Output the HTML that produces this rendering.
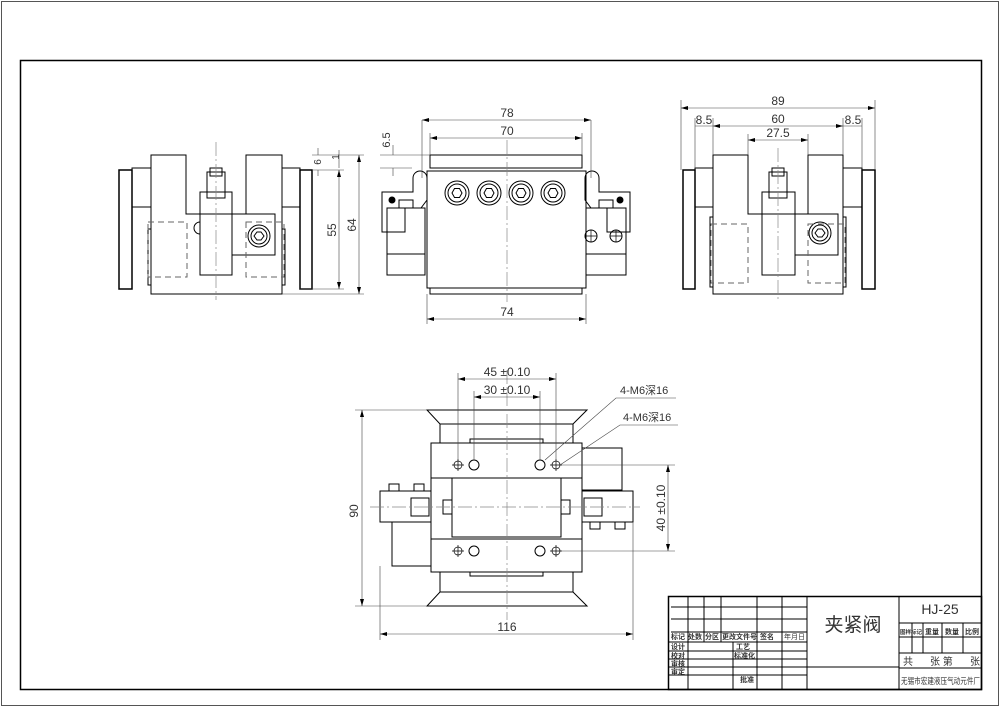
<!DOCTYPE html>
<html><head><meta charset="utf-8"><style>
html,body{margin:0;padding:0;background:#fff}
svg{display:block}
text{font-family:"Liberation Sans","Noto Sans CJK SC",sans-serif;fill:#333}
</style></head><body>
<svg width="1000" height="707" viewBox="0 0 1000 707" xmlns="http://www.w3.org/2000/svg">
<g fill="none" stroke="#000" stroke-width="1">
<rect x="1.5" y="1.5" width="997" height="704" stroke="#555"/>
<rect x="20.5" y="60.5" width="961" height="629" stroke-width="1.5"/>

<!-- LEFT VIEW -->
<rect x="119" y="170" width="13" height="119" stroke-width="1.5"/>
<rect x="132" y="168" width="19" height="39"/>
<path d="M151 155 H186 V214 H246 V155 H282 V294 H151 Z"/>
<rect x="282" y="168" width="18" height="39"/>
<rect x="300" y="170" width="12" height="119" stroke-width="1.5"/>
<rect x="200" y="192" width="32" height="83"/>
<rect x="207" y="172" width="18" height="26"/>
<rect x="210" y="168" width="12" height="8"/>
<rect x="232" y="214" width="43" height="41"/>
<circle cx="259" cy="236" r="11"/><circle cx="259" cy="236" r="8"/><path d="M254 236 l3-4 h4 l3 4 l-3 4 h-4z"/>
<path d="M200 222 a4 4 0 0 0 0 12" />
<path d="M151 229 h-3 v56 h3 M282 229 h3 v56 h-3"/>
<g stroke="#666" stroke-dasharray="6 4"><rect x="148" y="222" width="39" height="55"/><rect x="246" y="222" width="38" height="55"/></g>
<path d="M216 142 V300" stroke="#888" stroke-dasharray="14 3 2 3" stroke-width=".7"/>

<!-- FRONT VIEW -->
<rect x="430" y="155" width="152" height="13"/>
<rect x="427" y="171" width="159" height="117"/>
<rect x="430" y="288" width="152" height="6"/>
<line x1="436" y1="168" x2="576" y2="168"/>
<g>
<circle cx="457" cy="193" r="12"/><circle cx="457" cy="193" r="9"/><path d="M452 193 l2.5-4.5 h5 l2.5 4.5 l-2.5 4.5 h-5z"/>
<circle cx="489" cy="193" r="12"/><circle cx="489" cy="193" r="9"/><path d="M484 193 l2.5-4.5 h5 l2.5 4.5 l-2.5 4.5 h-5z"/>
<circle cx="521" cy="193" r="12"/><circle cx="521" cy="193" r="9"/><path d="M516 193 l2.5-4.5 h5 l2.5 4.5 l-2.5 4.5 h-5z"/>
<circle cx="553" cy="193" r="12"/><circle cx="553" cy="193" r="9"/><path d="M548 193 l2.5-4.5 h5 l2.5 4.5 l-2.5 4.5 h-5z"/>
</g>
<path d="M382 192 H413 V178 a7 7 0 0 1 14 0 V200 L421 208 H405 V232 H382 Z"/>
<rect x="387" y="208" width="38" height="67"/><line x1="387" y1="254" x2="425" y2="254"/>
<rect x="399" y="200" width="14" height="8"/>
<path d="M630 192 H599 V178 a7 7 0 0 0 -14 0 V200 L591 208 H607 V232 H630 Z"/>
<rect x="586" y="208" width="40" height="67"/><line x1="586" y1="254" x2="626" y2="254"/>
<rect x="599" y="200" width="14" height="8"/>
<circle cx="392" cy="200" r="3" fill="#000"/><circle cx="620" cy="200" r="3" fill="#000"/>
<circle cx="591" cy="236" r="6"/><circle cx="616" cy="236" r="6"/>
<path d="M585 236 h12 M591 230 v12 M610 236 h12 M616 230 v12" stroke-width=".7"/>
<path d="M507 140 V302" stroke="#888" stroke-dasharray="14 3 2 3" stroke-width=".7"/>

<!-- RIGHT VIEW -->
<rect x="683" y="170" width="12" height="119" stroke-width="1.5"/>
<rect x="695" y="168" width="18" height="39"/>
<path d="M713 155 H748 V214 H808 V155 H843 V294 H713 Z"/>
<rect x="843" y="168" width="19" height="39"/>
<rect x="862" y="170" width="13" height="119" stroke-width="1.5"/>
<rect x="762" y="192" width="33" height="83"/>
<rect x="769" y="172" width="18" height="26"/>
<rect x="772" y="168" width="12" height="8"/>
<rect x="795" y="214" width="43" height="41"/>
<circle cx="820" cy="233" r="11"/><circle cx="820" cy="233" r="8"/><path d="M815 233 l3-4 h4 l3 4 l-3 4 h-4z"/>
<path d="M713 217 h-3 v70 h3 M843 217 h3 v70 h-3"/>
<g stroke="#666" stroke-dasharray="6 4"><rect x="711" y="224" width="37" height="59"/><rect x="808" y="224" width="37" height="59"/></g>
<path d="M778 148 V300" stroke="#888" stroke-dasharray="14 3 2 3" stroke-width=".7"/>

<!-- BOTTOM VIEW -->
<path d="M427 410 H587 L573 424 H440 Z"/>
<rect x="440" y="424" width="133" height="19"/>
<rect x="470" y="439" width="73" height="4"/>
<rect x="431" y="443" width="151" height="129"/>
<line x1="431" y1="478" x2="582" y2="478"/><line x1="431" y1="539" x2="582" y2="539"/>
<rect x="452" y="478" width="109" height="59"/>
<rect x="443" y="500" width="9" height="14"/><rect x="561" y="500" width="9" height="14"/>
<rect x="470" y="572" width="73" height="4"/>
<rect x="440" y="572" width="133" height="20"/>
<path d="M440 592 H573 L587 606 H427 Z"/>
<rect x="582" y="448" width="40" height="42"/>
<rect x="392" y="522" width="39" height="44"/>
<rect x="380" y="491" width="51" height="31"/><rect x="411" y="498" width="18" height="18"/>
<rect x="582" y="491" width="51" height="31"/><rect x="584" y="498" width="18" height="18"/>
<rect x="389" y="484" width="10" height="7"/><rect x="414" y="484" width="10" height="7"/>
<rect x="590" y="522" width="10" height="7"/><rect x="615" y="522" width="10" height="7"/>
<circle cx="474" cy="465" r="5"/><circle cx="540" cy="465" r="5"/><circle cx="474" cy="551" r="5"/><circle cx="540" cy="551" r="5"/>
<g stroke-width=".7"><circle cx="458" cy="465" r="4"/><circle cx="556" cy="465" r="4"/><circle cx="458" cy="551" r="4"/><circle cx="556" cy="551" r="4"/>
<path d="M452 465h12M458 459v12M550 465h12M556 459v12M452 551h12M458 545v12M550 551h12M556 545v12"/></g>
<path d="M507 370 V620 M370 507 H640" stroke="#888" stroke-dasharray="14 3 2 3" stroke-width=".7"/>

<!-- DIMENSIONS -->
<g stroke="#444" stroke-width=".6">
<path d="M312 155 H364 M312 170 H344 M300 289 H344 M282 294 H364"/>
<path d="M359 155 V294 M339 170 V289 M318 148 V155 M318 170 V176 M339 150 V168"/>
<path d="M422 120 H591 M430 138 H582 M427 319 H586"/>
<path d="M422 120 V178 M591 120 V178 M430 133 V155 M582 133 V155 M427 294 V324 M586 294 V324"/>
<path d="M380 155 H430 M380 168 H412 M393 145 V155 M393 168 V176"/>
<path d="M681 108 H875 M681 100 V170 M875 100 V170 M695 126 H862 M695 118 V168 M713 118 V155 M843 118 V155 M862 118 V168 M748 140 H808 M748 134 V155 M808 134 V155"/>
<path d="M458 379 H556 M474 397 H540 M458 373 V460 M556 373 V460 M474 391 V460 M540 391 V460"/>
<path d="M362 410 V606 M355 410 H427 M355 606 H427 M380 634 H633 M380 566 V640 M633 522 V640 M668 465 V551 M562 465 H675 M562 551 H675"/>
<path d="M545 460 L616 398 H676 M560 465 L620 425 H678"/>
</g>
<g fill="#000" stroke="none">
<path d="M422 120 l7 -2 v4z M591 120 l-7 -2 v4z M430 138 l7-2v4z M582 138 l-7-2v4z M427 319 l7-2v4z M586 319 l-7-2v4z"/>
<path d="M681 108 l7-2v4z M875 108 l-7-2v4z M748 140 l7-2v4z M808 140 l-7-2v4z M713 126 l7-2v4z M843 126 l-7-2v4z"/>
<path d="M458 379 l7-2v4z M556 379 l-7-2v4z M474 397 l7-2v4z M540 397 l-7-2v4z M380 634 l7-2v4z M633 634 l-7-2v4z"/>
<path d="M362 410 l-2 7h4z M362 606 l-2-7h4z M668 465 l-2 7h4z M668 551 l-2-7h4z M359 155 l-2 7h4z M359 294 l-2-7h4z M339 170 l-2 7h4z M339 289 l-2-7h4z"/>
</g>
<g font-size="12" stroke="none" fill="#444">
<text x="507" y="117" text-anchor="middle">78</text>
<text x="507" y="135" text-anchor="middle">70</text>
<text x="507" y="316" text-anchor="middle">74</text>
<text x="778" y="105" text-anchor="middle">89</text>
<text x="704" y="124" text-anchor="middle">8.5</text>
<text x="778" y="123" text-anchor="middle">60</text>
<text x="853" y="124" text-anchor="middle">8.5</text>
<text x="778" y="137" text-anchor="middle">27.5</text>
<text x="507" y="376" text-anchor="middle">45 ±0.10</text>
<text x="507" y="394" text-anchor="middle">30 ±0.10</text>
<text x="507" y="631" text-anchor="middle">116</text>
<text x="620" y="394" font-size="11">4-M6深16</text>
<text x="623" y="421" font-size="11">4-M6深16</text>
<text transform="translate(358 511) rotate(-90)" text-anchor="middle">90</text>
<text transform="translate(665 508) rotate(-90)" text-anchor="middle">40 ±0.10</text>
<text transform="translate(336 230) rotate(-90)" text-anchor="middle">55</text>
<text transform="translate(356 225) rotate(-90)" text-anchor="middle">64</text>
<text transform="translate(321 162) rotate(-90)" text-anchor="middle" font-size="10">6</text>
<text transform="translate(339 157) rotate(-90)" text-anchor="middle" font-size="10">1</text>
<text transform="translate(390 140) rotate(-90)" text-anchor="middle" font-size="11">6.5</text>
</g>
</g>

<!-- TITLE BLOCK -->
<g fill="none" stroke="#000" stroke-width="1">
<rect x="668.5" y="596.5" width="313" height="93" stroke-width="1.5"/>
<path d="M671 607 H807 M671 619 H807 M671 632 H807 M668 642 H807 M668 651 H807 M668 659 H807 M668 667 H807 M668 675 H807"/>
<path d="M688 596 V690 M704 596 V642 M721 596 V642 M757 596 V690 M782 596 V690 M807 596 V690 M899 596 V690 M733 642 V690"/>
<path d="M899 623 H982 M899 637 H982 M899 653 H982 M899 668 H982 M912 623 V653 M923 623 V653 M942 623 V653 M963 623 V653 M807 667 H899"/>
</g>
<g stroke="none">
<text x="853" y="631" font-size="19" text-anchor="middle" fill="#000">夹紧阀</text>
<text x="940" y="614" font-size="14" text-anchor="middle" fill="#999">HJ-25</text>
<g font-size="7" fill="#000" font-weight="bold">
<text x="671" y="639">标记</text><text x="688" y="639">处数</text><text x="705" y="639">分区</text><text x="722" y="639">更改文件号</text><text x="760" y="639">签名</text><text x="784" y="639" font-weight="normal">年月日</text>
<text x="671" y="649">设计</text><text x="736" y="649">工艺</text>
<text x="671" y="658">校对</text><text x="734" y="658">标准化</text>
<text x="671" y="666">审核</text>
<text x="671" y="674">审定</text><text x="740" y="682">批准</text>
<text x="900" y="634" font-size="5.5">图样标记</text><text x="925" y="634">重量</text><text x="945" y="634">数量</text><text x="965" y="634">比例</text>
</g>
<text x="903" y="665" font-size="10" fill="#000">共</text><text x="930" y="665" font-size="10" fill="#000">张 第</text><text x="970" y="665" font-size="10" fill="#000">张</text>
<text x="901" y="684" font-size="8.5" fill="#000" textLength="79" lengthAdjust="spacingAndGlyphs">无锡市宏建液压气动元件厂</text>
</g>
</svg>
</body></html>
